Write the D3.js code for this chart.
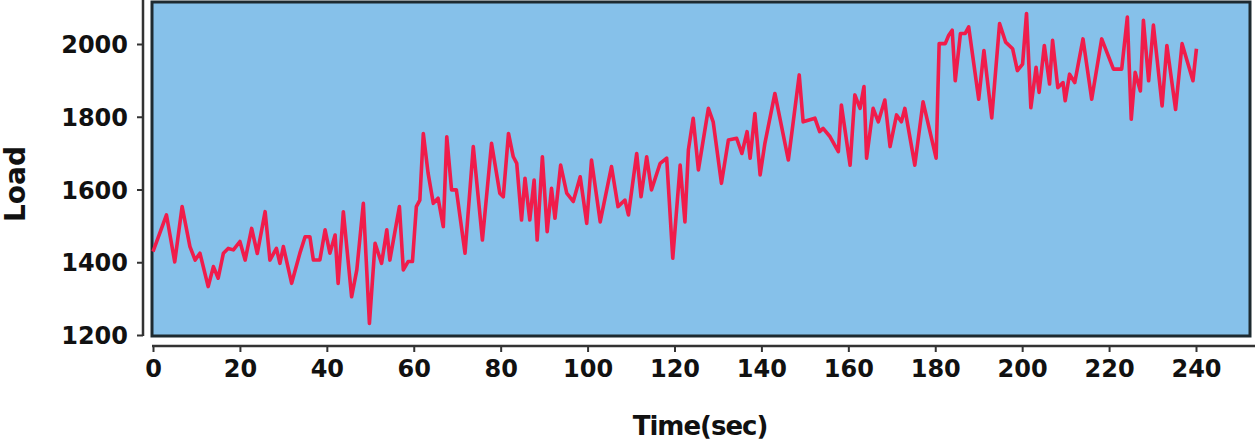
<!DOCTYPE html>
<html>
<head>
<meta charset="utf-8">
<title>Load over time</title>
<script src="https://d3js.org/d3.v7.min.js"></script>
<style>
  body { margin: 0; background: #fff; }
  .tick text { font-family: "DejaVu Sans", sans-serif; font-weight: bold; font-size: 24px; fill: #111; }
  .tick line { stroke: #333; stroke-width: 2; }
  .title { font-family: "DejaVu Sans", sans-serif; font-weight: bold; fill: #111; }
</style>
</head>
<body>
<script>
  // sample times (sec) and load values
  var time = [0, 3.1, 5, 6.7, 8.5, 9.7, 10.8, 12.7, 13.9, 15, 16.2, 17.3, 18.5, 20, 21.2, 22.7, 24, 25.8,
    26.9, 28.4, 29.2, 30, 31.9, 33.8, 35, 36.1, 36.9, 38.4, 39.6, 40.7, 41.9, 42.6, 43.8, 45.7, 46.9, 48.4,
    49.8, 51.1, 52.6, 53.8, 54.5, 56.7, 57.6, 58.7, 59.7, 60.6, 61.4, 62.2, 63.3, 64.5, 65.6, 66.8, 67.6,
    68.7, 69.8, 71.8, 73.7, 75.8, 77.9, 79.8, 80.6, 81.8, 82.9, 83.7, 84.8, 85.6, 86.7, 87.7, 88.4, 89.6,
    90.7, 91.7, 92.5, 93.8, 95.2, 96.7, 98.3, 99.8, 100.9, 102.9, 105.5, 107, 108.6, 109.4, 111.3, 112.3,
    113.6, 114.7, 116.7, 118.2, 119.6, 121.3, 122.4, 123.2, 124.3, 125.5, 127.8, 128.9, 130.8, 132.4,
    134.3, 135.5, 136.7, 137.4, 138.5, 139.7, 140.8, 143.1, 146.2, 148.7, 149.6, 152.3, 153.4, 154.2,
    155.8, 157.7, 158.4, 160.4, 161.5, 162.7, 163.6, 164.2, 165.7, 166.9, 168.4, 169.6, 171.1, 172.2,
    173, 175.3, 177.2, 180.2, 180.9, 182.3, 183.1, 183.9, 184.6, 185.8, 186.9, 187.7, 190, 191.2, 193,
    194.8, 196.2, 197.8, 198.9, 200.1, 201, 202, 203.2, 203.9, 205.1, 206.3, 207, 208.2, 209.4, 209.9,
    210.9, 212.1, 214, 216, 218.3, 221, 222.9, 224.2, 225.1, 226, 227.2, 227.9, 229.1, 230.2, 232.2,
    233.3, 235.3, 236.8, 239.3, 240.1];
  var load = [1429, 1530, 1401, 1553, 1443, 1406, 1425, 1333, 1388, 1356, 1425, 1438, 1434, 1457, 1406, 1493, 1424, 1539,
    1406, 1438, 1397, 1443, 1342, 1425, 1470, 1470, 1406, 1406, 1489, 1425, 1475, 1342, 1539, 1305, 1379, 1562,
    1232, 1452, 1397, 1489, 1406, 1553, 1379, 1402, 1402, 1553, 1571, 1754, 1645, 1562, 1576, 1498, 1745,
    1599, 1599, 1425, 1718, 1461, 1727, 1590, 1580, 1754, 1690, 1672, 1516, 1631, 1516, 1626, 1461, 1690,
    1484, 1603, 1521, 1667, 1590, 1567, 1635, 1507, 1681, 1511, 1663, 1553, 1571, 1530, 1699, 1580,
    1690, 1599, 1672, 1686, 1411, 1667, 1511, 1709, 1796, 1654, 1823, 1786, 1617, 1736,
    1741, 1699, 1759, 1686, 1809, 1640, 1727, 1864, 1681, 1915, 1786, 1796, 1759, 1768,
    1745, 1704, 1832, 1667, 1860, 1823, 1883, 1686, 1823, 1786, 1846, 1718, 1805, 1786,
    1823, 1667, 1841, 1686, 2001, 2001, 2024, 2038, 1899, 2029, 2029, 2047, 1848, 1982, 1797,
    2056, 2005, 1987, 1927, 1945, 2084, 1825, 1936, 1867, 1996, 1890, 2010, 1880, 1894, 1844,
    1917, 1894, 2014, 1848, 2014, 1931, 1931, 2074, 1793, 1922, 1871, 2065, 1899, 2052, 1830,
    1996, 1820, 2001, 1899, 1987];
  var xTicks = [0, 20, 40, 60, 80, 100, 120, 140, 160, 180, 200, 220, 240];
  var yTicks = [1200, 1400, 1600, 1800, 2000];

  var w = 1255, h = 441;

  var svg = d3.select("body").append("svg")
      .attr("width", w)
      .attr("height", h);

  var x = d3.scaleLinear().domain([0, 240]).range([153, 1196]);
  var y = d3.scaleLinear().domain([1200, 2000]).range([335, 44]);

  // plot background box
  svg.append("rect")
      .attr("x", 152).attr("y", 2)
      .attr("width", 1098).attr("height", 334)
      .attr("fill", "#86c1ea")
      .attr("stroke", "#1d2a30")
      .attr("stroke-width", 3);

  // the load line
  var line = d3.line()
      .x(function(d, i) { return x(time[i]); })
      .y(function(d) { return y(d); });

  svg.append("path")
      .datum(load)
      .attr("d", line)
      .attr("fill", "none")
      .attr("stroke", "#f01c4b")
      .attr("stroke-width", 3.6)
      .attr("stroke-linejoin", "round");

  // y axis, detached to the left of the box
  var yAxis = svg.append("g")
      .attr("transform", "translate(143,0)")
      .call(d3.axisLeft(y).tickValues(yTicks).tickFormat(d3.format("d")).tickSize(6).tickPadding(9));
  yAxis.select(".domain").remove();
  yAxis.selectAll(".tick text").attr("dy", "0.36em");
  svg.append("line")
      .attr("x1", 143).attr("x2", 143)
      .attr("y1", 0).attr("y2", 336)
      .attr("stroke", "#333").attr("stroke-width", 2.5);

  // x axis, detached below the box
  var xAxis = svg.append("g")
      .attr("transform", "translate(0,346)")
      .call(d3.axisBottom(x).tickValues(xTicks).tickSize(6).tickPadding(8));
  xAxis.select(".domain").remove();
  svg.append("line")
      .attr("x1", 152).attr("x2", 1255)
      .attr("y1", 346).attr("y2", 346)
      .attr("stroke", "#333").attr("stroke-width", 2.5);

  // titles
  svg.append("text")
      .attr("class", "title")
      .attr("x", 700).attr("y", 435)
      .attr("text-anchor", "middle")
      .style("font-size", "26px")
      .style("letter-spacing", "-1px")
      .text("Time(sec)");

  svg.append("text")
      .attr("class", "title")
      .attr("transform", "translate(25,184) rotate(-90)")
      .attr("text-anchor", "middle")
      .style("font-size", "28px")
      .text("Load");
</script>
</body>
</html>
